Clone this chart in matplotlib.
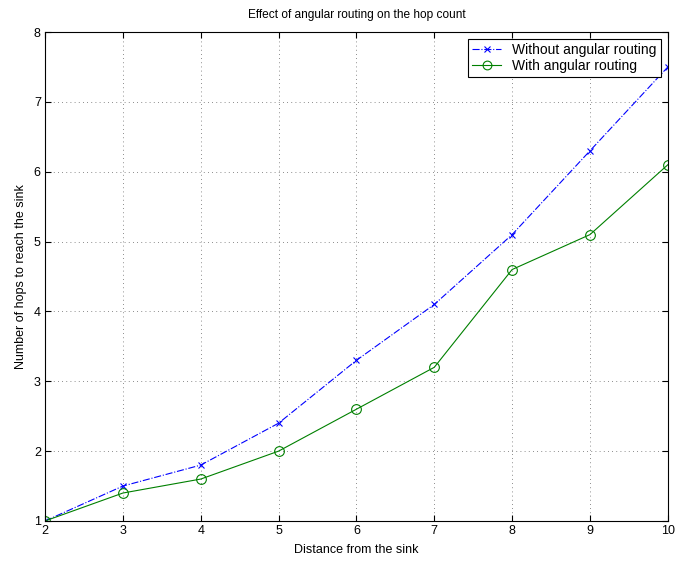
import matplotlib
matplotlib.use('Agg')
import matplotlib.pyplot as plt

plt.rcParams['font.family'] = ['Liberation Sans', 'DejaVu Sans']

# Datos del grafico
distancia = [2, 3, 4, 5, 6, 7, 8, 9, 10]
sin_angular = [1.0, 1.5, 1.8, 2.4, 3.3, 4.1, 5.1, 6.3, 7.5]
con_angular = [1.0, 1.4, 1.6, 2.0, 2.6, 3.2, 4.6, 5.1, 6.1]

fig = plt.figure(figsize=(6.78, 5.62), dpi=100)
ax = fig.add_axes([0.0664, 0.073, 0.9186, 0.870])

ax.plot(distancia, sin_angular, color='blue', linestyle='-.', linewidth=0.8,
        marker='x', markersize=5, markeredgewidth=0.8, label='Without angular routing')
ax.plot(distancia, con_angular, color='green', linestyle='-', linewidth=0.8,
        marker='o', markersize=7, markerfacecolor='none', markeredgewidth=0.8,
        label='With angular routing')

ax.set_xlim(2, 10)
ax.set_ylim(1, 8)
ax.set_xticks(range(2, 11))
ax.set_yticks(range(1, 9))
ax.grid(True, color='black', linestyle=(0, (1, 4)), linewidth=0.6, alpha=0.6)
ax.tick_params(direction='in', top=True, right=True, labelsize=9, length=4, pad=3)
for s in ax.spines.values():
    s.set_linewidth(0.8)

ax.set_title('Effect of angular routing on the hop count', fontsize=8.6, pad=10)
ax.set_xlabel('Distance from the sink', fontsize=9, labelpad=5)
ax.set_ylabel('Number of hops to reach the sink', fontsize=9, labelpad=5)

leg = ax.legend(loc='upper right', fontsize=10, fancybox=False, framealpha=1,
                edgecolor='black', borderpad=0.3, handlelength=2.1,
                labelspacing=0.15, borderaxespad=0.5, markerscale=0.9)
leg.get_frame().set_linewidth(0.8)

fig.savefig('out.png', dpi=100)
